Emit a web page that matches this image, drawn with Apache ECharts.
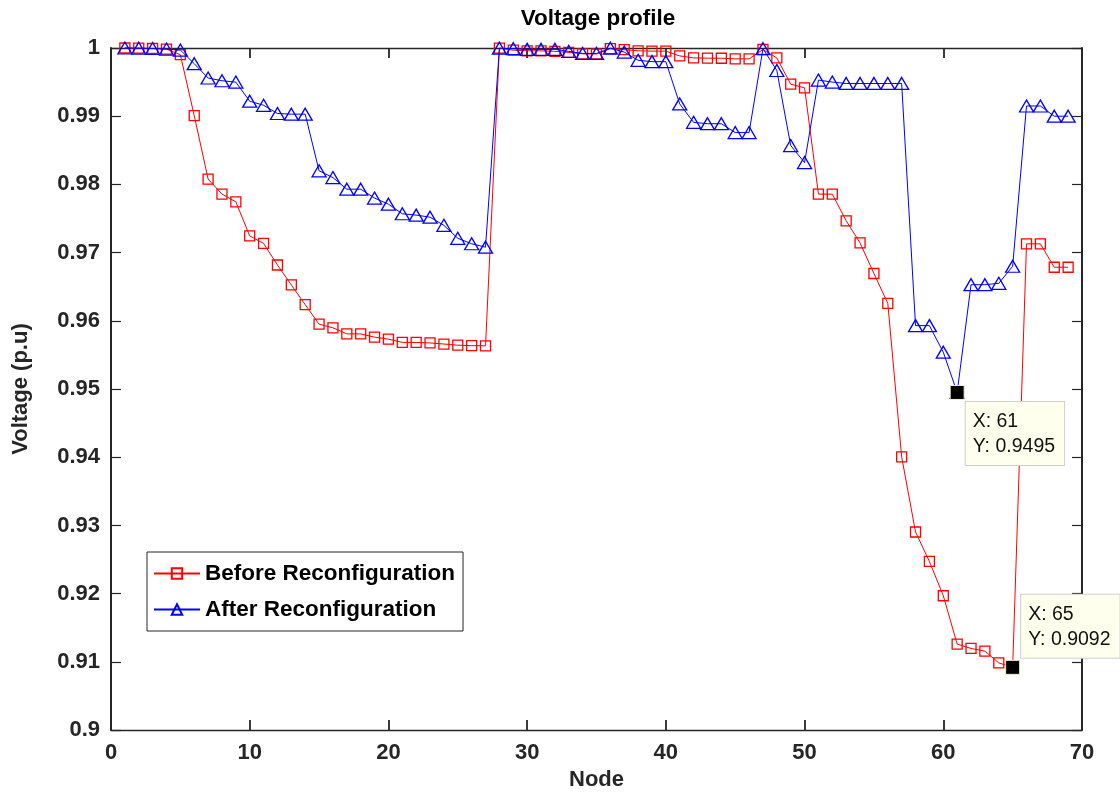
<!DOCTYPE html>
<html>
<head>
<meta charset="utf-8">
<script src="https://cdn.jsdelivr.net/npm/echarts@6/dist/echarts.min.js"></script>
<style>
  html, body { margin: 0; padding: 0; background: #fff; }
  #chart { width: 1120px; height: 796px; }
</style>
</head>
<body>
<div id="chart"></div>
<script>
// Bus numbers of the 69-node feeder
const nodes = Array.from({ length: 69 }, (_, i) => i + 1);

// Bus voltages (p.u.) before reconfiguration
const before = [
  1.0, 0.99997, 0.99993, 0.99984, 0.99902, 0.99009, 0.98079, 0.97858, 0.97745, 0.97245,
  0.97135, 0.96819, 0.96526, 0.96237, 0.95951, 0.95898, 0.95809, 0.95808, 0.95761, 0.95732,
  0.95684, 0.95683, 0.95676, 0.95660, 0.95643, 0.95636, 0.95634,
  0.99997, 0.99968, 0.99959, 0.99958, 0.99951, 0.99935, 0.99915, 0.99912,
  0.99992, 0.99975, 0.99959, 0.99954, 0.99954, 0.99884, 0.99855, 0.99851, 0.99850, 0.99841, 0.99840,
  0.99978, 0.99854, 0.99470, 0.99416,
  0.97858, 0.97857, 0.97467, 0.97142, 0.96694, 0.96256, 0.94005, 0.92904, 0.92473, 0.91970,
  0.91261, 0.91197, 0.91158, 0.90985, 0.9092,
  0.97129, 0.97129, 0.96786, 0.96786
];

// Bus voltages (p.u.) after reconfiguration
const after = [
  1.0, 0.99997, 0.99993, 0.99984, 0.9997, 0.9977, 0.9956, 0.9952, 0.9950, 0.9922,
  0.9916, 0.9904, 0.9903, 0.9903, 0.9820, 0.9810, 0.9793, 0.9793, 0.9780, 0.9771,
  0.9757, 0.9755, 0.9752, 0.9740, 0.9721, 0.9713, 0.9708,
  0.99997, 0.9999, 0.9998, 0.9998, 0.9998, 0.9995, 0.9992, 0.9992,
  0.99997, 0.9994, 0.9982, 0.9980, 0.9980, 0.9918, 0.9891, 0.9889, 0.9889, 0.9876, 0.9876,
  0.9999, 0.9967, 0.9857, 0.9832,
  0.9953, 0.9950, 0.9948, 0.9948, 0.9948, 0.9948, 0.9948, 0.9593, 0.9593, 0.9554,
  0.9495, 0.9653, 0.9653, 0.9655, 0.9680,
  0.9915, 0.9915, 0.9900, 0.9900
];

// Axis ticks
const xTicks = { min: 0, max: 70, step: 10 };
const yTicks = { min: 0.9, max: 1.0, step: 0.01 };

// Nodes flagged with data tips
const tipAfterNode = 61;
const tipBeforeNode = 65;

const FONT = '"Liberation Sans", Arial, Helvetica, sans-serif';
const AXIS_COLOR = '#262626';

const toPairs = (vals) => vals.map((v, i) => [nodes[i], v]);

function dataTip(node, values, offset) {
  const y = values[nodes.indexOf(node)];
  return {
    symbol: 'rect',
    symbolSize: 14,
    silent: true,
    itemStyle: { color: '#000', borderColor: '#f3f0d0', borderWidth: 1 },
    label: { show: false },
    data: [{
      coord: [node, y],
      label: {
        show: true,
        position: offset,
        align: 'left',
        verticalAlign: 'top',
        formatter: 'X: ' + node + '\nY: ' + y.toFixed(4),
        fontFamily: FONT,
        fontSize: 19.5,
        lineHeight: 25,
        color: '#111',
        backgroundColor: '#ffffee',
        borderColor: '#cfcfcf',
        borderWidth: 1,
        padding: [7, 9, 6, 7]
      }
    }]
  };
}

const baseX = {
  type: 'value', min: xTicks.min, max: xTicks.max, interval: xTicks.step,
  axisLine: { onZero: false, lineStyle: { color: AXIS_COLOR, width: 1.3 } },
  axisTick: { inside: true, length: 10, lineStyle: { color: AXIS_COLOR, width: 1.8 } },
  splitLine: { show: false }
};
const baseY = {
  type: 'value', min: yTicks.min, max: yTicks.max, interval: yTicks.step,
  axisLine: { onZero: false, lineStyle: { color: AXIS_COLOR, width: 2 } },
  axisTick: { inside: true, length: 10, lineStyle: { color: AXIS_COLOR, width: 1.2 } },
  splitLine: { show: false }
};

const chart = echarts.init(document.getElementById('chart'), null, { renderer: 'canvas' });

chart.setOption({
  animation: false,
  backgroundColor: '#fff',
  textStyle: { fontFamily: FONT },
  title: {
    text: 'Voltage profile',
    left: 593, top: 2, textAlign: 'center',
    textStyle: { fontFamily: FONT, fontSize: 22.5, fontWeight: 'bold', color: '#000' }
  },
  grid: { left: 111, right: 38, top: 48, bottom: 60, containLabel: false },
  legend: {
    orient: 'vertical',
    left: 147, top: 552,
    padding: [10, 8, 10, 6],
    itemWidth: 46, itemHeight: 13, itemGap: 13,
    backgroundColor: '#fff',
    borderColor: AXIS_COLOR, borderWidth: 1, borderRadius: 0,
    textStyle: { fontFamily: FONT, fontSize: 22.5, fontWeight: 'bold', color: '#000' },
    data: ['Before Reconfiguration', 'After Reconfiguration']
  },
  xAxis: [
    Object.assign({}, baseX, {
      position: 'bottom',
      name: 'Node', nameLocation: 'middle', nameGap: 37,
      nameTextStyle: { fontFamily: FONT, fontSize: 22, fontWeight: 'bold', color: AXIS_COLOR },
      axisLabel: { fontFamily: FONT, fontSize: 22, fontWeight: 'bold', color: AXIS_COLOR, margin: 12 }
    }),
    Object.assign({}, baseX, { position: 'top', axisLabel: { show: false } })
  ],
  yAxis: [
    Object.assign({}, baseY, {
      position: 'left',
      name: 'Voltage (p.u)', nameLocation: 'middle', nameGap: 79,
      nameTextStyle: { fontFamily: FONT, fontSize: 22, fontWeight: 'bold', color: AXIS_COLOR },
      axisLabel: {
        fontFamily: FONT, fontSize: 22, fontWeight: 'bold', color: AXIS_COLOR, margin: 11,
        formatter: (v) => String(+v.toFixed(2))
      }
    }),
    Object.assign({}, baseY, { position: 'right', axisLabel: { show: false } })
  ],
  series: [
    {
      name: 'Before Reconfiguration',
      type: 'line',
      xAxisIndex: 0, yAxisIndex: 0,
      data: toPairs(before),
      symbol: 'rect', symbolSize: 10,
      showAllSymbol: true,
      clip: false,
      lineStyle: { color: '#ff0000', width: 1 },
      itemStyle: { color: 'rgba(255,255,255,0)', borderColor: '#ff0000', borderWidth: 1.3 },
      emphasis: { disabled: true },
      markPoint: dataTip(tipBeforeNode, before, [16, -65]),
      z: 2
    },
    {
      name: 'After Reconfiguration',
      type: 'line',
      xAxisIndex: 0, yAxisIndex: 0,
      data: toPairs(after),
      symbol: 'triangle', symbolSize: [14, 12],
      showAllSymbol: true,
      clip: false,
      lineStyle: { color: '#0000ff', width: 1 },
      itemStyle: { color: 'rgba(255,255,255,0)', borderColor: '#0000ff', borderWidth: 1.3 },
      emphasis: { disabled: true },
      markPoint: dataTip(tipAfterNode, after, [16, 17]),
      z: 3
    }
  ]
});
</script>
</body>
</html>
